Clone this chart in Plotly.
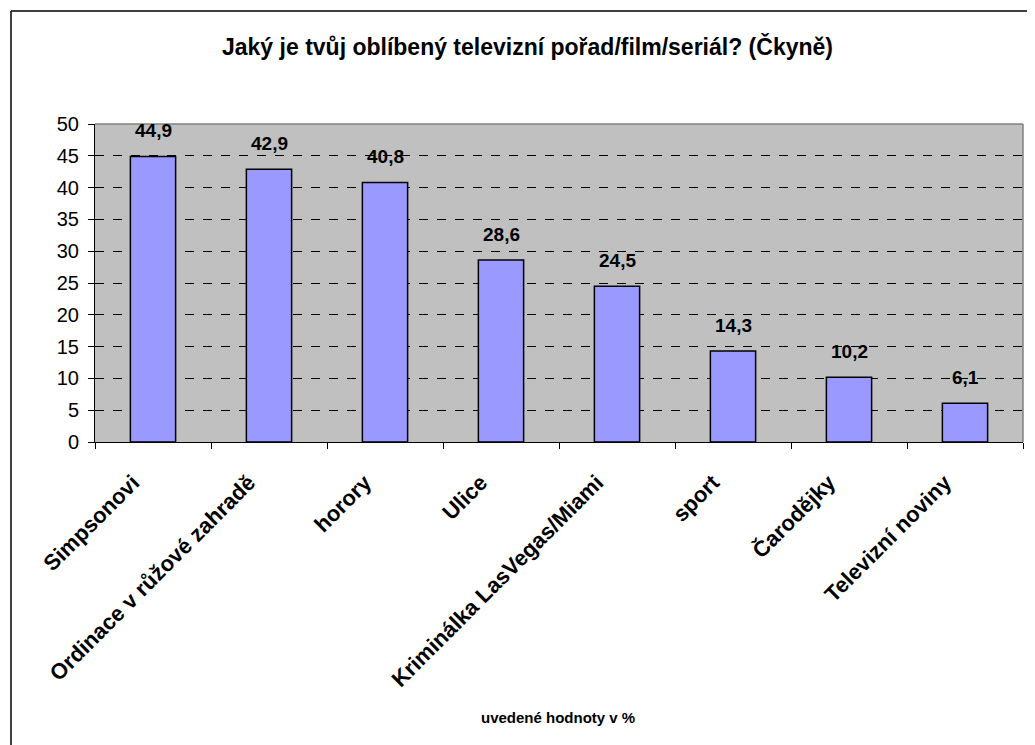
import plotly.graph_objects as go

categories = ["Simpsonovi", "Ordinace v růžové zahradě", "horory", "Ulice",
              "Kriminálka LasVegas/Miami", "sport", "Čarodějky", "Televizní noviny"]
values = [44.9, 42.9, 40.8, 28.6, 24.5, 14.3, 10.2, 6.1]
labels = [f"{v:.1f}".replace(".", ",") for v in values]
y_ticks = list(range(0, 51, 5))

OFF = 8  # page body margin
W, H = 1035 - OFF, 745 - OFF
L, T = 95 - OFF, 124 - OFF
R = W - (1023 - OFF)
B = H - (442 - OFF)
pw, ph = W - L - R, H - T - B

def px_x(x):  # page pixel -> paper
    return (x - OFF - L) / pw

def px_y(y):
    return (H - B - (y - OFF)) / ph

FONT = "Liberation Sans, Arial, sans-serif"

fig = go.Figure(go.Bar(
    x=categories, y=values,
    marker=dict(color="#9999FF", line=dict(color="black", width=1.5)),
    hoverinfo="skip",
))

anns = [dict(x=c, y=v, text=f"<b>{t}</b>", showarrow=False, yanchor="middle",
             xanchor="center", yshift=26,
             font=dict(family=FONT, size=19, color="black"))
        for c, v, t in zip(categories, values, labels)]
anns.append(dict(x=px_x(558), y=px_y(717), xref="paper", yref="paper",
                 text="<b>uvedené hodnoty v %</b>", showarrow=False,
                 xanchor="center", yanchor="middle",
                 font=dict(family=FONT, size=15, color="black")))
anns.append(dict(x=px_x(527), y=px_y(47), xref="paper", yref="paper",
                 text="<b>Jaký je tvůj oblíbený televizní pořad/film/seriál? (Čkyně)</b>",
                 showarrow=False, xanchor="center", yanchor="middle",
                 font=dict(family=FONT, size=23, color="black")))

fig.update_layout(
    width=W, height=H,
    margin=dict(l=L, r=R, t=T, b=B, autoexpand=False),
    paper_bgcolor="white", plot_bgcolor="#C0C0C0",
    bargap=0.61, showlegend=False,
    font=dict(family=FONT, color="black"),
    annotations=anns,
    shapes=[
        dict(type="line", xref="paper", yref="paper", x0=0, x1=1, y0=1, y1=1,
             line=dict(color="#808080", width=1.5)),
        dict(type="line", xref="paper", yref="paper", x0=1, x1=1, y0=0, y1=1,
             line=dict(color="#808080", width=1.5)),
        dict(type="line", xref="paper", yref="paper", x0=px_x(11), x1=px_x(11),
             y0=px_y(11), y1=px_y(760), line=dict(color="black", width=1.5)),
        dict(type="line", xref="paper", yref="paper", x0=px_x(11), x1=px_x(1050),
             y0=px_y(11), y1=px_y(11), line=dict(color="black", width=1.5)),
    ],
)
fig.update_xaxes(
    type="category", tickangle=-45, ticks="outside", tickson="boundaries",
    ticklen=6, tickcolor="black", showline=True, linecolor="black", linewidth=1,
    tickfont=dict(family=FONT, size=22, color="black", weight="bold"),
    ticklabelshift=-20, ticklabelstandoff=18,
    showgrid=False, automargin=False,
)
fig.update_yaxes(
    range=[0, 50], tickvals=y_ticks, ticks="outside", ticklen=6, tickcolor="black",
    showline=True, linecolor="black", linewidth=1,
    showgrid=True, gridcolor="black", griddash="dash", gridwidth=1,
    zeroline=False, tickfont=dict(family=FONT, size=20, color="black"),
    ticklabelstandoff=5,
    automargin=False,
)

fig.write_html("out.html")
